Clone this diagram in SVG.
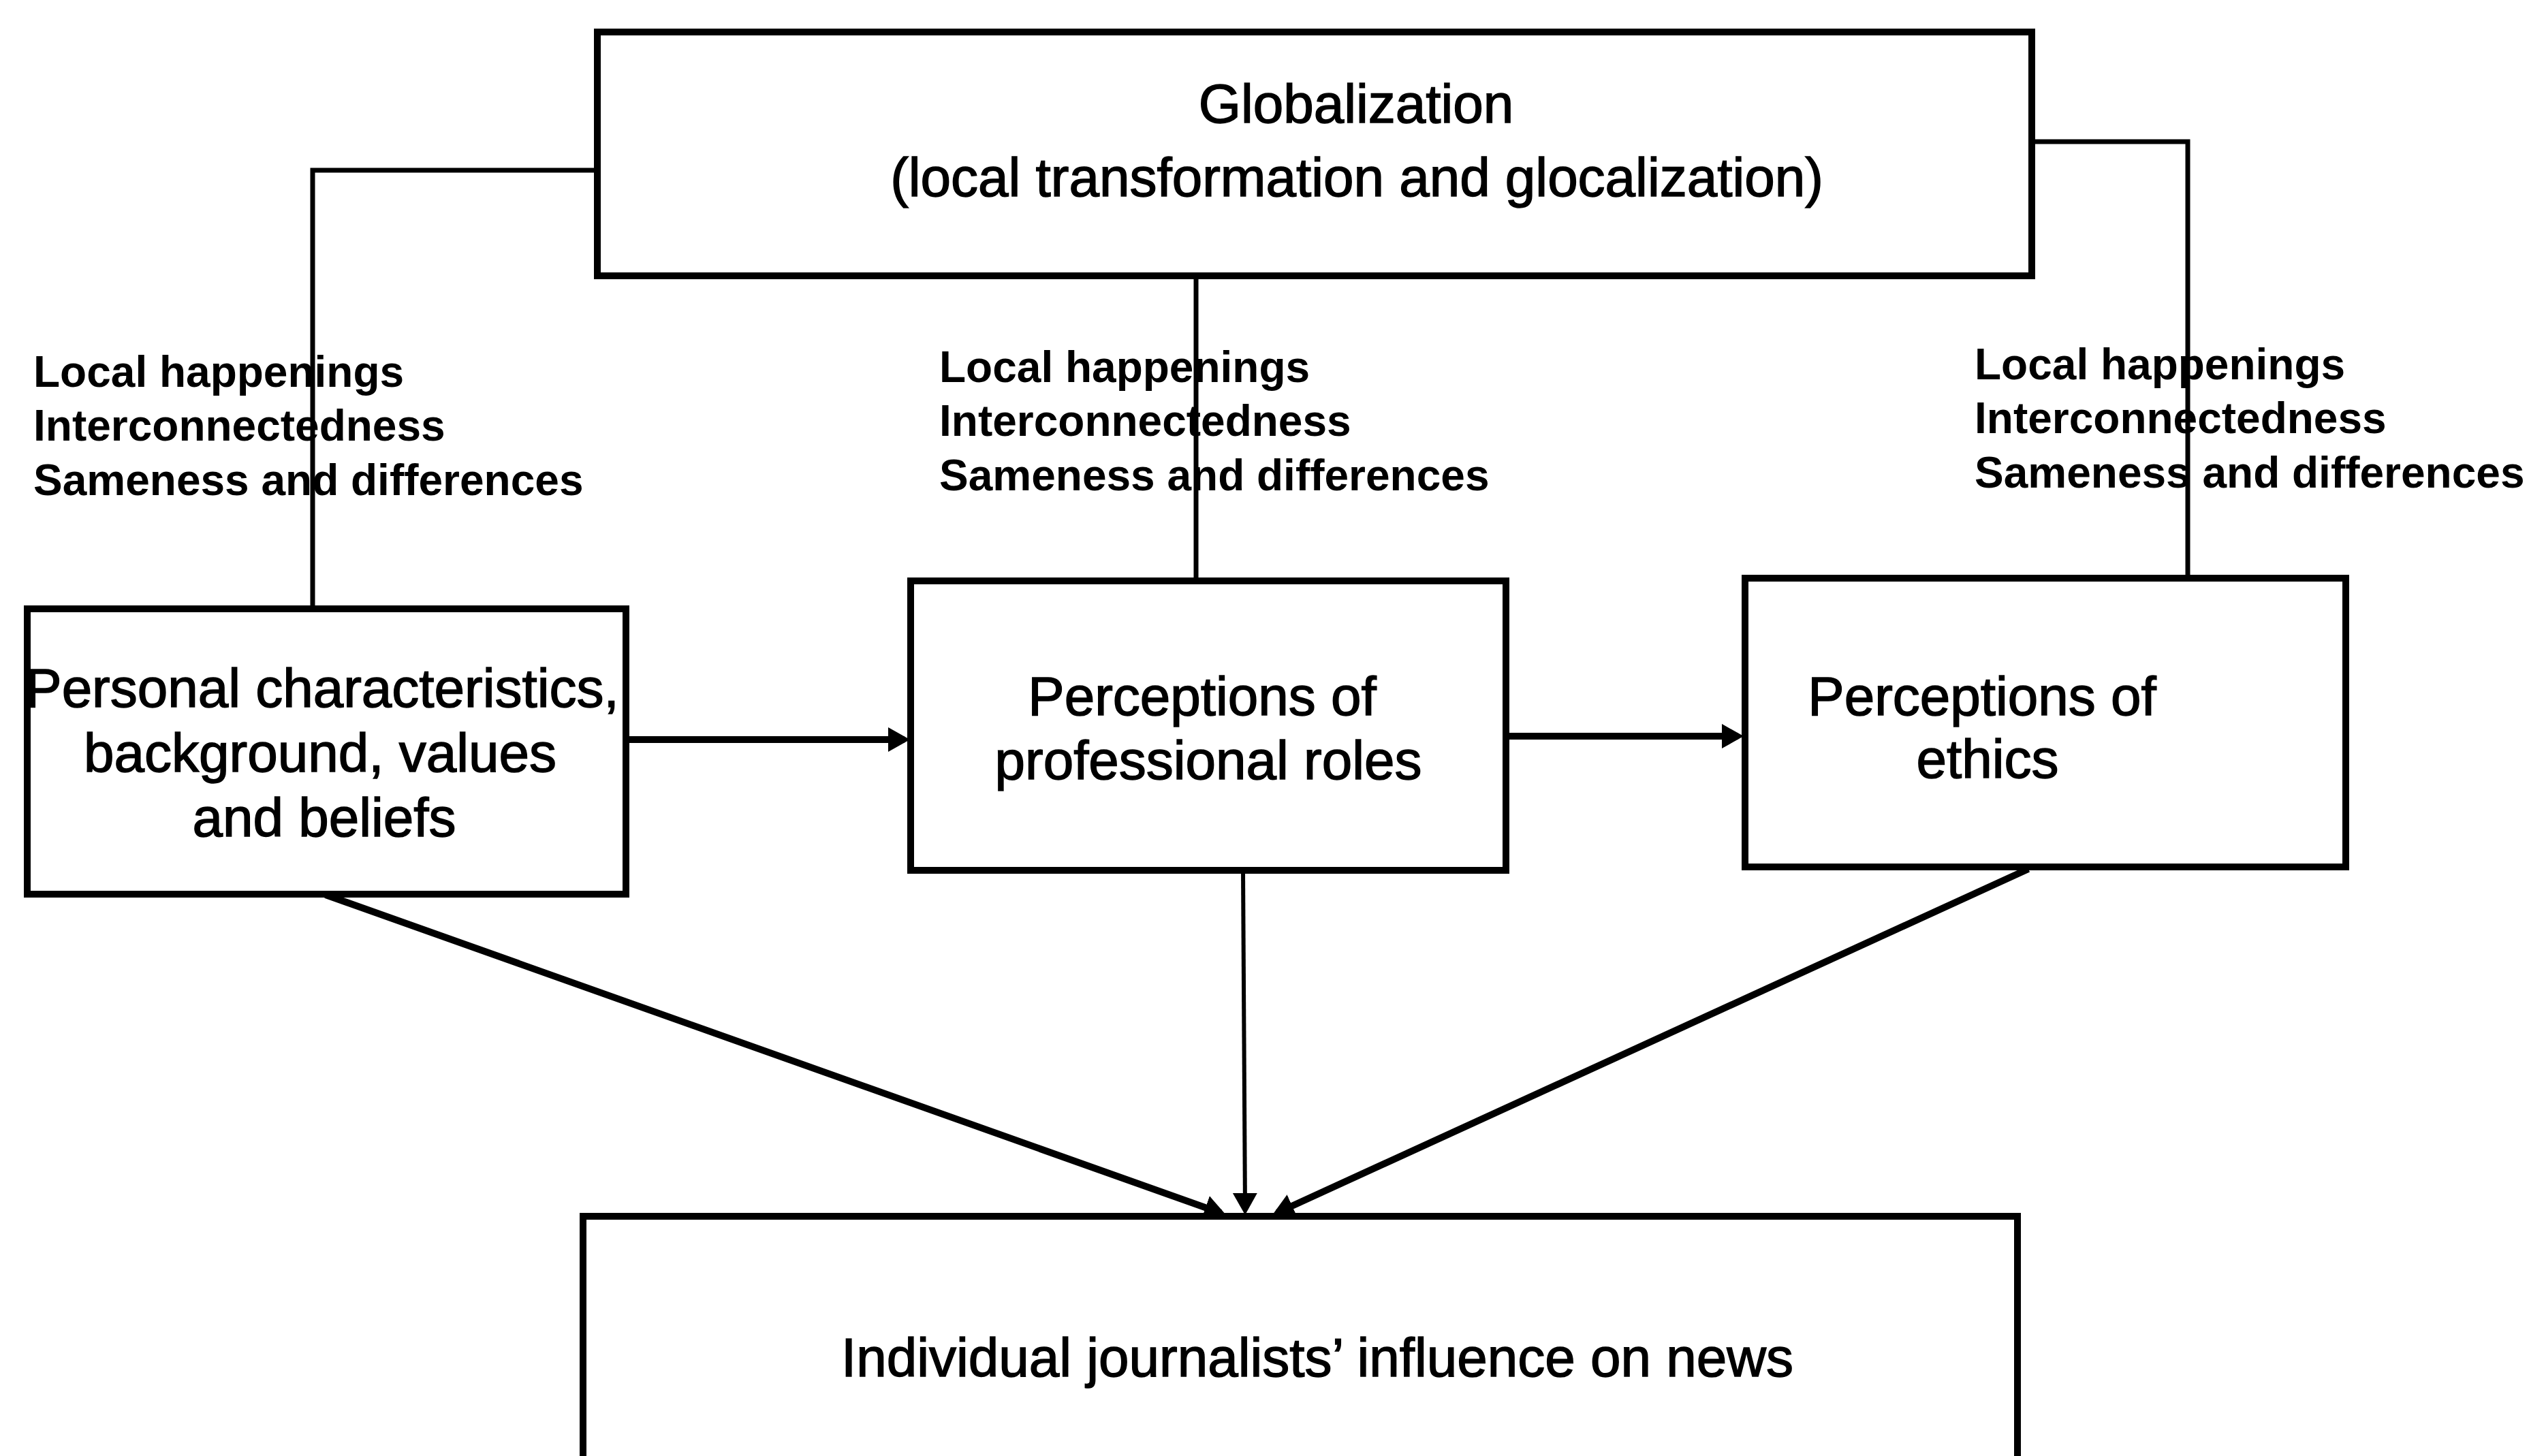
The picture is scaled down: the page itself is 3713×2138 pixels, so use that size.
<svg xmlns="http://www.w3.org/2000/svg" width="3713" height="2138" viewBox="0 0 3713 2138">
  <style>
    .box { fill: #ffffff; stroke: #000000; stroke-width: 10; }
    .label { font-family: "Liberation Sans", Arial, sans-serif; font-size: 80px; fill: #000000; stroke: #000000; stroke-width: 1.5; }
    .factors { font-family: "Liberation Sans", Arial, sans-serif; font-size: 64px; font-weight: bold; fill: #000000; }
    .link { fill: none; stroke: #000000; stroke-width: 7; }
    .flow { fill: none; stroke: #000000; stroke-width: 10; }
    .flow-thin { fill: none; stroke: #000000; stroke-width: 6; }
  </style>
  <defs>
    <marker id="head" markerUnits="userSpaceOnUse" markerWidth="34" markerHeight="38" viewBox="0 0 34 38" refX="24" refY="19" orient="auto">
      <path d="M0,1 L32,19 L0,37 z" fill="#000000"/>
    </marker>
  </defs>

  <rect x="0" y="0" width="3713" height="2138" fill="#ffffff"/>

  <!-- connectors -->
  <g id="connectors">
    <!-- globalization feeds down into each box -->
    <polyline class="link" points="880,250 459,250 459,894"/>
    <line class="link" x1="1756" y1="405" x2="1756" y2="853"/>
    <polyline class="link" points="2980,208 3212,208 3212,849"/>
    <!-- left-to-right chain -->
    <line class="flow" x1="919" y1="1086" x2="1328" y2="1086" marker-end="url(#head)"/>
    <line class="flow" x1="2211" y1="1081" x2="2552" y2="1081" marker-end="url(#head)"/>
    <!-- influence on news -->
    <line class="flow" x1="478" y1="1314" x2="1792.5" y2="1781.3" marker-end="url(#head)"/>
    <line class="flow-thin" x1="1825" y1="1278" x2="1828" y2="1776" marker-end="url(#head)"/>
    <line class="flow" x1="2978" y1="1276" x2="1875.3" y2="1780.7" marker-end="url(#head)"/>
  </g>

  <!-- factor labels beside the vertical links -->
  <g id="factors-left">
    <text class="factors" x="49" y="568">Local happenings</text>
    <text class="factors" x="49" y="647">Interconnectedness</text>
    <text class="factors" x="49" y="727">Sameness and differences</text>
  </g>
  <g id="factors-middle">
    <text class="factors" x="1379" y="561">Local happenings</text>
    <text class="factors" x="1379" y="640">Interconnectedness</text>
    <text class="factors" x="1379" y="720">Sameness and differences</text>
  </g>
  <g id="factors-right">
    <text class="factors" x="2899" y="557">Local happenings</text>
    <text class="factors" x="2899" y="636">Interconnectedness</text>
    <text class="factors" x="2899" y="716">Sameness and differences</text>
  </g>

  <g id="globalization">
    <rect class="box" x="877" y="47" width="2106" height="358"/>
    <text class="label" x="1991" y="180" text-anchor="middle">Globalization</text>
    <text class="label" x="1992" y="288" text-anchor="middle">(local transformation and glocalization)</text>
  </g>

  <g id="personal">
    <rect class="box" x="40" y="894" width="879" height="419"/>
    <text class="label" x="473" y="1038" text-anchor="middle">Personal characteristics,</text>
    <text class="label" x="470" y="1133" text-anchor="middle">background, values</text>
    <text class="label" x="476" y="1228" text-anchor="middle">and beliefs</text>
  </g>

  <g id="roles">
    <rect class="box" x="1337" y="853" width="874" height="425"/>
    <text class="label" x="1765" y="1050" text-anchor="middle">Perceptions of</text>
    <text class="label" x="1774" y="1144" text-anchor="middle">professional roles</text>
  </g>

  <g id="ethics">
    <rect class="box" x="2562" y="849" width="882" height="424"/>
    <text class="label" x="2910" y="1050" text-anchor="middle">Perceptions of</text>
    <text class="label" x="2918" y="1142" text-anchor="middle">ethics</text>
  </g>

  <g id="influence">
    <rect class="box" x="856" y="1786" width="2106" height="400"/>
    <text class="label" x="1934" y="2021" text-anchor="middle">Individual journalists’ influence on news</text>
  </g>
</svg>
